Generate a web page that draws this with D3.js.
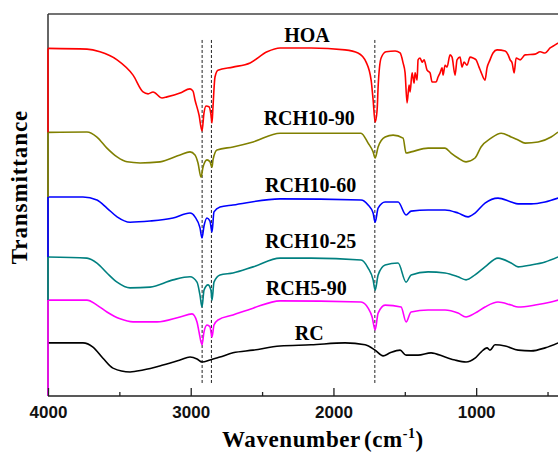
<!DOCTYPE html>
<html>
<head>
<meta charset="utf-8">
<script src="https://cdn.jsdelivr.net/npm/d3@7"></script>
<style>
  body { margin: 0; background: #fff; }
  .lbl { font-family: "Liberation Serif", "Times New Roman", serif; font-weight: bold; }
  .tick text { font-family: "Liberation Sans", Arial, sans-serif; font-weight: bold; font-size: 17px; fill: #111; }
</style>
</head>
<body>
<div id="graph"></div>
<script>
// spectra: [wavenumber cm-1, transmittance (a.u., stacked)]
const hoa = [[4000,91.0],[3727,90.8],[3636,90.1],[3516,88.0],[3404,84.0],[3334,79.6],[3299,79.1],[3264,79.6],[3201,78.0],[3166,78.3],[3075,79.3],[3005,80.4],[2984,79.8],[2970,77.5],[2942,73.6],[2921,69.4],[2907,74.1],[2893,75.9],[2872,75.7],[2858,73.6],[2851,71.5],[2844,75.7],[2830,83.5],[2809,85.3],[2704,86.1],[2584,87.2],[2465,90.1],[2374,91.1],[2157,91.1],[1919,90.6],[1828,89.8],[1771,87.4],[1736,82.7],[1722,77.5],[1708,71.7],[1694,74.9],[1687,80.9],[1666,88.5],[1631,90.1],[1568,90.3],[1533,89.8],[1512,87.2],[1498,84.6],[1484,76.7],[1470,81.4],[1463,79.6],[1449,84.6],[1435,81.9],[1428,84.6],[1414,82.7],[1407,88.0],[1393,88.5],[1379,87.4],[1365,88.0],[1344,85.3],[1323,84.6],[1309,82.2],[1281,82.2],[1267,83.5],[1253,84.6],[1239,85.9],[1232,84.0],[1218,86.6],[1204,86.1],[1183,89.3],[1169,88.7],[1148,84.0],[1134,88.0],[1113,88.7],[1099,86.1],[1085,87.4],[1064,86.6],[1043,88.7],[1022,88.5],[1001,88.0],[980,86.1],[966,84.8],[938,82.7],[924,85.9],[903,88.0],[882,89.8],[854,90.6],[797,90.3],[776,89.3],[762,88.0],[748,87.2],[734,84.6],[720,88.5],[692,88.0],[657,89.3],[587,89.5],[552,90.1],[517,89.8],[482,91.1],[447,91.9],[426,92.4]];

const rch1090 = [[4000,69.0],[3727,69.1],[3657,67.8],[3587,64.9],[3516,62.6],[3446,61.3],[3355,61.0],[3215,61.3],[3075,63.1],[3005,63.9],[2970,63.1],[2949,61.0],[2928,57.3],[2914,59.9],[2886,61.8],[2865,61.3],[2851,59.9],[2844,61.8],[2816,64.4],[2704,65.2],[2563,66.5],[2374,68.8],[2157,68.8],[1807,68.8],[1757,66.2],[1722,63.9],[1708,62.3],[1687,65.2],[1638,67.8],[1582,68.3],[1512,67.5],[1491,63.6],[1456,63.9],[1337,64.9],[1218,64.9],[1176,63.6],[1127,62.3],[1071,61.3],[1008,62.3],[966,65.2],[896,67.5],[825,68.8],[755,67.8],[706,67.0],[657,66.2],[566,66.5],[475,67.8],[426,69.1]];

const rch1060 = [[4000,52.1],[3755,52.1],[3657,51.3],[3587,49.2],[3516,46.9],[3425,45.5],[3285,45.8],[3124,46.6],[3005,47.9],[2970,46.9],[2935,44.0],[2921,41.4],[2907,44.5],[2886,46.6],[2865,45.8],[2851,42.9],[2837,48.2],[2795,49.5],[2704,50.0],[2374,51.6],[1807,51.3],[1757,50.0],[1722,47.9],[1708,45.5],[1687,49.2],[1638,50.8],[1547,50.8],[1491,47.4],[1456,48.4],[1337,48.7],[1218,48.7],[1127,47.9],[1057,46.9],[1008,47.9],[938,50.5],[847,51.8],[755,50.8],[706,50.3],[615,50.3],[517,50.8],[426,51.8]];

const rch1025 = [[4000,36.4],[3727,36.1],[3657,34.8],[3587,32.2],[3516,29.8],[3425,28.3],[3285,28.5],[3124,30.4],[3005,31.2],[2956,29.8],[2935,26.4],[2921,23.3],[2907,27.7],[2879,29.1],[2858,27.7],[2851,25.1],[2837,29.8],[2795,31.7],[2704,32.2],[2563,33.8],[2374,36.1],[2157,36.1],[1807,35.6],[1757,33.5],[1722,30.4],[1708,27.7],[1687,31.7],[1638,34.3],[1547,34.8],[1491,29.8],[1456,31.7],[1337,32.5],[1218,32.2],[1127,31.2],[1071,30.4],[1008,31.7],[938,33.8],[847,36.1],[755,34.8],[706,33.8],[615,34.3],[517,35.1],[426,36.4]];

const rch590 = [[4000,25.1],[3727,25.1],[3657,23.8],[3587,22.0],[3495,20.2],[3404,19.4],[3236,19.4],[3075,20.7],[2991,21.5],[2956,19.4],[2942,16.8],[2921,13.4],[2907,16.8],[2886,18.6],[2865,18.1],[2851,15.4],[2837,18.6],[2809,19.9],[2704,21.2],[2563,23.0],[2374,24.9],[1807,24.6],[1757,23.0],[1729,20.7],[1708,17.3],[1687,21.7],[1638,23.8],[1526,23.3],[1491,19.4],[1456,22.0],[1337,22.5],[1218,22.5],[1127,21.7],[1071,20.7],[1008,21.7],[938,23.3],[847,24.6],[755,23.8],[706,23.3],[587,23.8],[475,24.6],[426,25.1]];

const rc = [[4000,13.9],[3755,13.9],[3685,12.8],[3615,9.9],[3545,7.3],[3425,6.3],[3334,6.8],[3194,8.1],[3075,9.4],[3005,10.2],[2956,9.7],[2921,8.9],[2865,9.4],[2795,10.2],[2704,11.3],[2563,12.0],[2374,13.1],[2157,13.4],[1919,13.9],[1778,13.4],[1708,12.0],[1652,10.5],[1603,11.3],[1533,12.0],[1491,10.7],[1407,10.7],[1316,11.3],[1218,10.2],[1148,9.4],[1071,8.9],[1008,9.9],[966,11.5],[924,12.6],[903,12.0],[868,13.4],[797,13.1],[706,12.0],[615,11.8],[517,12.6],[426,13.9]];

const names = ["HOA", "RCH10-90", "RCH10-60", "RCH10-25", "RCH5-90", "RC"];
const spectra = [hoa, rch1090, rch1060, rch1025, rch590, rc];
const colors = ["#ff0000", "#808000", "#0000ff", "#008080", "#ff00ff", "#000000"];
// label anchor in data units (wavenumber, transmittance)
const labelPos = [[2185,92.7],[2170,70.9],[2160,53.4],[2160,38.7],[2190,26.4],[2170,14.7]];

const majorTicks = [4000, 3000, 2000, 1000];
const minorTicks = [3500, 2500, 1500, 500];
const bands = [2920, 2855, 1710]; // dashed guide lines

const w = 558;
const h = 455;
const margin = { top: 14, left: 48, bottom: 59 };

const xScale = d3.scaleLinear().domain([4000, 400]).range([margin.left, 561.8]);
const yScale = d3.scaleLinear().domain([0, 100]).range([h - margin.bottom, margin.top]);

const svg = d3.select("#graph").append("svg").attr("width", w).attr("height", h);

// frame: top and left
svg.append("line")
  .attr("x1", margin.left).attr("x2", w)
  .attr("y1", margin.top).attr("y2", margin.top)
  .attr("stroke", "#444").attr("stroke-width", 1.5);
svg.append("line")
  .attr("x1", margin.left).attr("x2", margin.left)
  .attr("y1", margin.top).attr("y2", h - margin.bottom)
  .attr("stroke", "#333").attr("stroke-width", 1.5);

// dashed guides
svg.selectAll(".band")
  .data(bands)
  .enter()
  .append("line")
  .attr("class", "band")
  .attr("x1", (d) => xScale(d)).attr("x2", (d) => xScale(d))
  .attr("y1", yScale(93.2)).attr("y2", yScale(2.9))
  .attr("stroke", "#222").attr("stroke-width", 1)
  .attr("stroke-dasharray", "3,2");

const line = d3.line()
  .x((d) => xScale(d[0]))
  .y((d) => yScale(d[1]))
  .curve(d3.curveMonotoneX);

svg.selectAll(".spec")
  .data(spectra)
  .enter()
  .append("path")
  .attr("class", "spec")
  .attr("d", line)
  .attr("fill", "none")
  .attr("stroke", (d, i) => colors[i])
  .attr("stroke-width", 1.6)
  .attr("stroke-linejoin", "round");

// coloured pieces of the left spine, as drawn by the plotting program
const n = spectra.length;
for (let i = 0; i < n - 1; i++) {
  const y0 = spectra[i][0][1];
  const y1 = i === n - 2 ? 0 : spectra[i + 1][0][1];
  svg.append("line")
    .attr("x1", margin.left).attr("x2", margin.left)
    .attr("y1", yScale(y0)).attr("y2", yScale(y1))
    .attr("stroke", colors[i]).attr("stroke-width", 1.6);
}

// x axis
const xAxis = d3.axisBottom(xScale).tickValues(majorTicks).tickSizeInner(-8).tickSizeOuter(0).tickPadding(10).tickFormat(d3.format("d"));
const gx = svg.append("g")
  .attr("id", "x-axis")
  .attr("transform", `translate(0, ${h - margin.bottom})`)
  .call(xAxis);
gx.select(".domain").attr("stroke", "#222").attr("stroke-width", 1.5).attr("d", `M${margin.left},0H${w}`);
gx.selectAll(".tick line").attr("stroke", "#222").attr("stroke-width", 1.3);

const gxm = svg.append("g")
  .attr("transform", `translate(0, ${h - margin.bottom})`)
  .call(d3.axisBottom(xScale).tickValues(minorTicks).tickSizeInner(-4).tickSizeOuter(0).tickFormat(""));
gxm.select(".domain").remove();
gxm.selectAll(".tick line").attr("stroke", "#222").attr("stroke-width", 1.3);

// curve labels
svg.selectAll(".name")
  .data(names)
  .enter()
  .append("text")
  .attr("class", "lbl")
  .attr("x", (d, i) => xScale(labelPos[i][0]))
  .attr("y", (d, i) => yScale(labelPos[i][1]))
  .attr("text-anchor", "middle")
  .style("font-size", "20px")
  .text((d) => d);

// axis titles
const xt = svg.append("text")
  .attr("class", "lbl")
  .attr("x", 222).attr("y", 447)
  .style("font-size", "23px")
  .style("letter-spacing", "0.6px");
xt.append("tspan").text("Wavenumber");
xt.append("tspan").attr("dx", 3).text("(cm");
xt.append("tspan").attr("dy", -9).style("font-size", "14px").text("-1");
xt.append("tspan").attr("dy", 9).text(")");

svg.append("text")
  .attr("class", "lbl")
  .attr("transform", "translate(27, 187) rotate(-90)")
  .attr("text-anchor", "middle")
  .style("font-size", "23px")
  .style("letter-spacing", "0.9px")
  .text("Transmittance");
</script>
</body>
</html>
